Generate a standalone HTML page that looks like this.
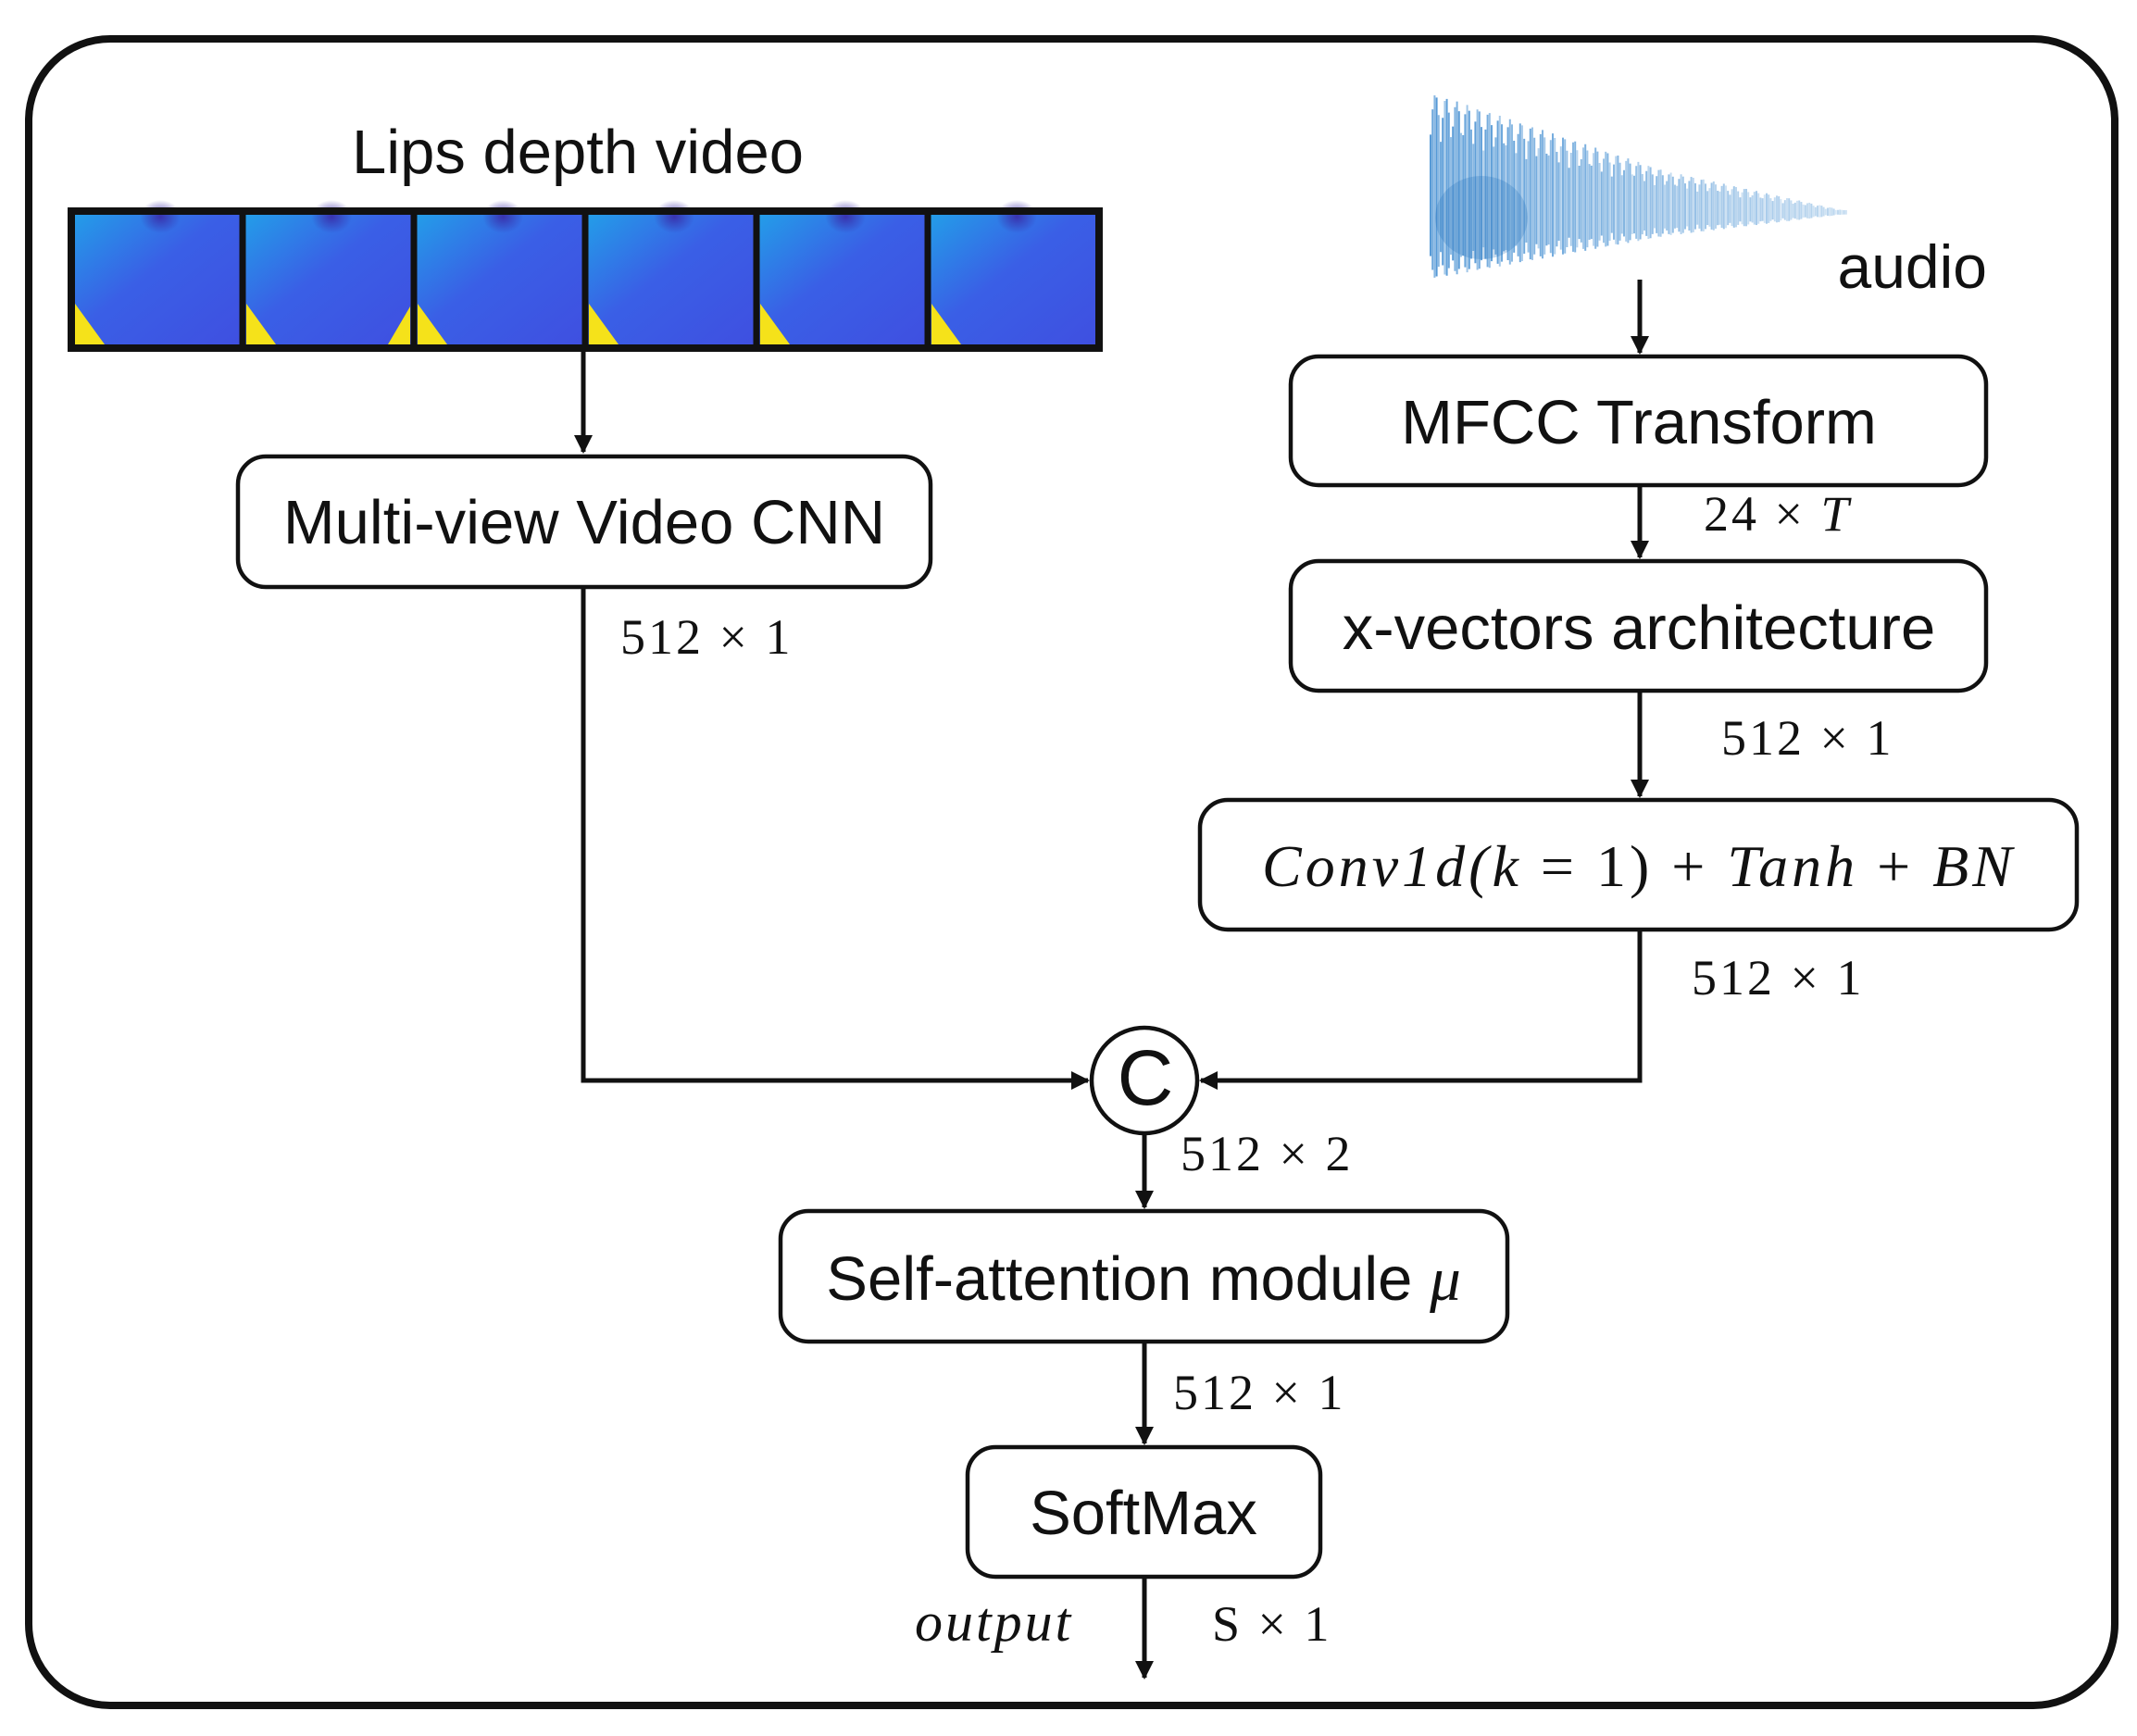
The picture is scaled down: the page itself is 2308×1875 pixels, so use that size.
<!DOCTYPE html>
<html><head><meta charset="utf-8"><style>
html,body{margin:0;padding:0;background:#fff;}
svg{display:block;}
.s{font-family:"Liberation Sans",sans-serif;fill:#111;}
.m{font-family:"Liberation Serif",serif;fill:#111;}
</style></head><body>
<svg id="sv" width="2308" height="1875" viewBox="0 0 2308 1875" xmlns="http://www.w3.org/2000/svg">
<defs>
<linearGradient id="fg" x1="0" y1="0" x2="1" y2="1">
<stop offset="0" stop-color="#22a0e8"/><stop offset="0.45" stop-color="#3a5fe6"/><stop offset="1" stop-color="#3f4fe0"/>
</linearGradient>
<radialGradient id="sp"><stop offset="0" stop-color="#3a2aa8" stop-opacity="0.9"/><stop offset="1" stop-color="#3a2aa8" stop-opacity="0"/></radialGradient>
<marker id="a2" viewBox="0 0 10 10" refX="9" refY="5" markerWidth="20" markerHeight="20" orient="auto" markerUnits="userSpaceOnUse"><path d="M0,0 L10,5 L0,10 z" fill="#111"/></marker>
</defs>
<rect x="31" y="42" width="2253" height="1800" rx="88" fill="none" stroke="#111" stroke-width="8"/>
<text class="s" x="624" y="187" font-size="67" text-anchor="middle">Lips depth video</text>
<g id="frames"></g>
<g id="wave"></g>
<text class="s" x="2146" y="311" font-size="66" text-anchor="end">audio</text>
<g fill="none" stroke="#111" stroke-width="5">
<line x1="630" y1="380" x2="630" y2="488" marker-end="url(#a2)"/>
<line x1="1771" y1="302" x2="1771" y2="381" marker-end="url(#a2)"/>
<line x1="1771" y1="524" x2="1771" y2="602" marker-end="url(#a2)"/>
<line x1="1771" y1="746" x2="1771" y2="860" marker-end="url(#a2)"/>
<polyline points="630,634 630,1167 1175,1167" marker-end="url(#a2)"/>
<polyline points="1771,1004 1771,1167 1297,1167" marker-end="url(#a2)"/>
<line x1="1236" y1="1226" x2="1236" y2="1304" marker-end="url(#a2)"/>
<line x1="1236" y1="1449" x2="1236" y2="1559" marker-end="url(#a2)"/>
<line x1="1236" y1="1703" x2="1236" y2="1812" marker-end="url(#a2)"/>
</g>
<g fill="#fff" stroke="#111" stroke-width="4.5">
<rect x="257" y="493" width="748" height="141" rx="30"/>
<rect x="1394" y="385" width="751" height="139" rx="30"/>
<rect x="1394" y="606" width="751" height="140" rx="30"/>
<rect x="1296" y="864" width="947" height="140" rx="30"/>
<rect x="843" y="1308" width="785" height="141" rx="30"/>
<rect x="1045" y="1563" width="381" height="140" rx="30"/>
<circle cx="1236" cy="1167" r="57"/>
</g>
<text class="s" x="631" y="587" font-size="67" text-anchor="middle">Multi-view Video CNN</text>
<text class="s" x="1770" y="479" font-size="67" text-anchor="middle">MFCC Transform</text>
<text class="s" x="1770" y="701" font-size="67" text-anchor="middle">x-vectors architecture</text>
<text class="m" x="1770" y="957" font-size="64" text-anchor="middle" font-style="italic" letter-spacing="4">Conv1d(k <tspan font-style="normal">=</tspan> <tspan font-style="normal">1)</tspan> <tspan font-style="normal">+</tspan> Tanh <tspan font-style="normal">+</tspan> BN</text>
<text class="s" x="1235" y="1404" font-size="67" text-anchor="middle">Self-attention module <tspan class="m" font-style="italic">μ</tspan></text>
<text class="s" x="1235" y="1657" font-size="67" text-anchor="middle">SoftMax</text>
<text class="s" x="1237" y="1193" font-size="84" text-anchor="middle">C</text>
<g class="m" font-size="54" letter-spacing="3">
<text x="670" y="706">512 × 1</text>
<text x="1840" y="573">24 × <tspan font-style="italic">T</tspan></text>
<text x="1859" y="815">512 × 1</text>
<text x="1827" y="1074">512 × 1</text>
<text x="1275" y="1264">512 × 2</text>
<text x="1267" y="1522">512 × 1</text>
<text x="1309" y="1772">S × 1</text>
<text x="988" y="1772" font-style="italic" font-size="60">output</text>
</g>
</svg>
<script>
(function(){
var NS="http://www.w3.org/2000/svg";
function el(n,a,p){var e=document.createElementNS(NS,n);for(var k in a)e.setAttribute(k,a[k]);p.appendChild(e);return e;}
var f=document.getElementById('frames');
var x0=77,w=185,y0=228,h=148;
for(var i=0;i<6;i++){
 var x=x0+i*w;
 el('rect',{x:x,y:y0,width:w,height:h,fill:'url(#fg)'},f);
 el('ellipse',{cx:x+w*0.52,cy:y0+6,rx:22,ry:18,fill:'url(#sp)'},f);
 el('polygon',{points:(x+4)+','+(y0+h-4)+' '+(x+4)+','+(y0+h-48)+' '+(x+36)+','+(y0+h-4),fill:'#f5e21a'},f);
 if(i==1) el('polygon',{points:(x+w-4)+','+(y0+h-4)+' '+(x+w-4)+','+(y0+h-45)+' '+(x+w-28)+','+(y0+h-4),fill:'#f5e21a'},f);
 el('rect',{x:x,y:y0,width:w,height:h,fill:'none',stroke:'#111','stroke-width':7},f);
}
el('rect',{x:x0,y:y0,width:w*6,height:h,fill:'none',stroke:'#111','stroke-width':8},f);
var g=document.getElementById('wave');
var cx0=1545,cx1=1995,cy=230;
for(var x=cx0;x<cx1;x+=2.2){
 var t=(x-cx0)/(cx1-cx0);
 var amp=(t<0.6?(130-150*t):(40*(1-t)/0.4+2))*(0.6+0.4*Math.abs(Math.sin(x*1.7)));
 if(amp<3)amp=3;
 var op=(0.3+0.5*(1-t))*(0.5+0.5*Math.abs(Math.sin(x*0.9)));
 el('line',{x1:x,y1:cy-amp,x2:x,y2:cy+amp*0.55,stroke:'#2a7fcc','stroke-width':2,opacity:op},g);
}
el('ellipse',{cx:1600,cy:235,rx:50,ry:45,fill:'#1a6db8',opacity:0.25},g);
})();
</script>
</body></html>
